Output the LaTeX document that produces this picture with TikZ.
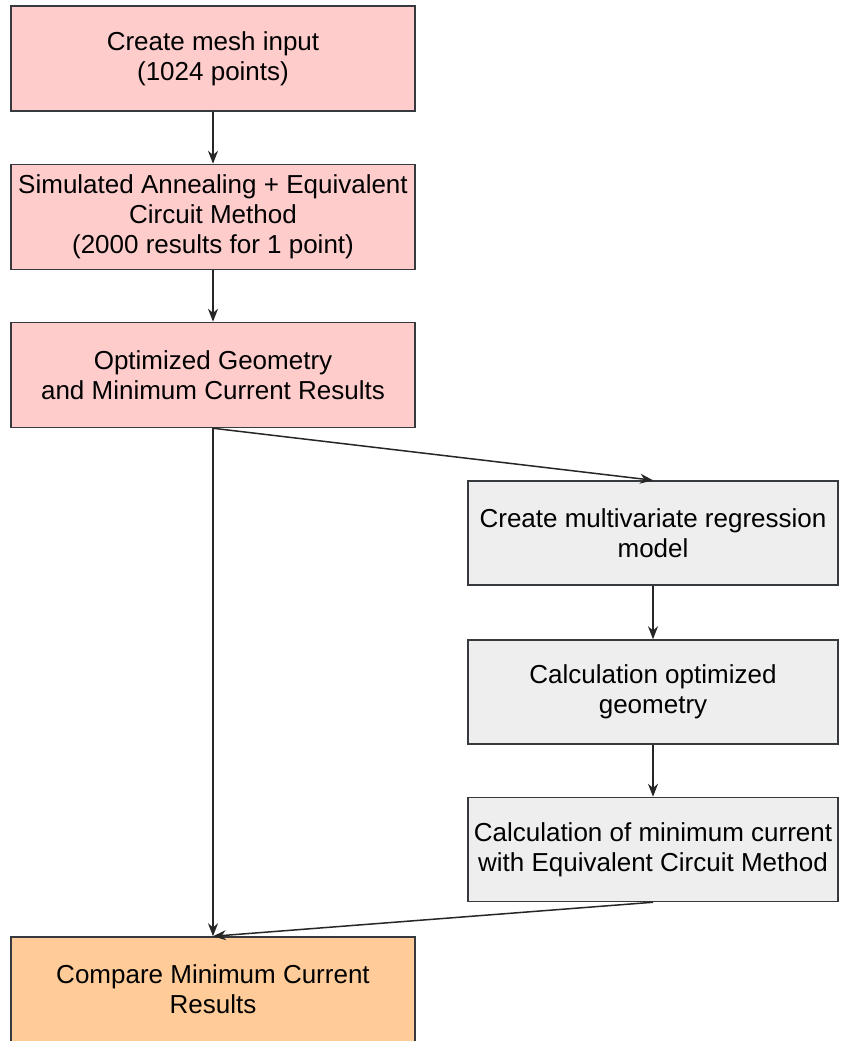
\documentclass[tikz,border=0pt]{standalone}
\usepackage{fontspec}
\setmainfont{Liberation Sans}
\usepackage{xcolor}
\usetikzlibrary{arrows.meta}

\definecolor{pinkbox}{HTML}{FFCCCC}
\definecolor{greybox}{HTML}{EEEEEE}
\definecolor{orangebox}{HTML}{FFCC99}
\definecolor{edgecol}{HTML}{36393D}

\tikzset{
  box/.style={draw=edgecol, line width=1.5pt, align=center, inner sep=0pt,
    font=\fontsize{26}{30}\selectfont},
  wide/.style={box, minimum width=404pt, minimum height=105pt},
  narrow/.style={box, minimum width=370pt, minimum height=104pt},
  flow/.style={-{Stealth[length=13pt,width=10pt]}, line width=1.5pt, draw=black!85}
}

\begin{document}
\begin{tikzpicture}[x=1pt,y=-1pt]
\useasboundingbox (0,0) rectangle (842,1041);
\node[wide, fill=pinkbox] (mesh) at (213,58.5) {Create mesh input\\(1024 points)};
\node[wide, fill=pinkbox] (anneal) at (213,217) {Simulated Annealing + Equivalent\\Circuit Method\\(2000 results for 1 point)};
\node[wide, fill=pinkbox] (optgeo) at (213,375) {Optimized Geometry\\and Minimum Current Results};
\node[narrow, fill=greybox] (regr) at (653,533) {Create multivariate regression\\model};
\node[narrow, fill=greybox] (calcgeo) at (653,692) {Calculation optimized\\geometry};
\node[narrow, fill=greybox] (calccur) at (653,849.5) {Calculation of minimum current\\with Equivalent Circuit Method};
\node[wide, fill=orangebox] (compare) at (213,989.5) {Compare Minimum Current\\Results};

\draw[flow] (mesh) -- (anneal);
\draw[flow] (anneal) -- (optgeo);
\draw[flow] (optgeo.south) -- (regr.north);
\draw[flow] (regr) -- (calcgeo);
\draw[flow] (calcgeo) -- (calccur);
\draw[flow] (optgeo.south) -- (compare.north);
\draw[flow] (calccur.south) -- (compare.north);

\end{tikzpicture}
\end{document}
